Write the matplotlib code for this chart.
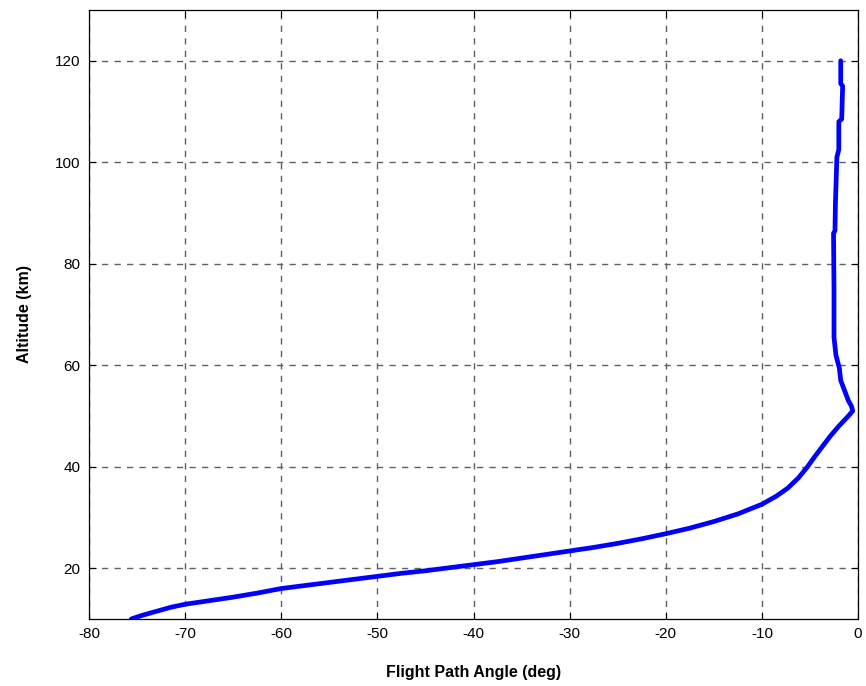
import numpy as np
import matplotlib
matplotlib.use('Agg')
import matplotlib.pyplot as plt

altitude = [10.0, 10.7, 11.5, 12.3, 12.9, 13.6, 14.3, 15.1, 16.0, 16.6,
            17.2, 17.8, 18.4, 19.0, 19.5, 20.1, 20.7, 21.3, 22.0, 22.7,
            23.4, 24.1, 24.9, 25.8, 26.8, 27.9, 29.2, 30.7, 32.6, 34.2,
            35.8, 37.8, 40.0, 42.0, 44.0, 46.0, 48.0, 50.0,
            51.0, 52.0, 53.0, 55.0, 57.0, 59.5, 62.0, 65.5, 75.0, 86.0,
            86.5, 92.0, 101.0, 102.5, 108.0, 108.5, 115.0, 115.5, 120.0]
fpa = [-75.6, -74.5, -73.0, -71.5, -70.0, -67.5, -65.0, -62.5, -60.0, -57.5,
       -55.0, -52.5, -50.0, -47.5, -45.0, -42.5, -40.0, -37.5, -35.0, -32.5,
       -30.0, -27.5, -25.0, -22.5, -20.0, -17.5, -15.0, -12.5, -10.0, -8.5,
       -7.3, -6.2, -5.25, -4.5, -3.7, -2.9, -2.0, -1.0,
       -0.55, -0.7, -1.0, -1.4, -1.8, -1.95, -2.3, -2.5, -2.5, -2.55,
       -2.4, -2.35, -2.2, -2.0, -2.0, -1.7, -1.6, -1.8, -1.8]

xticks = np.arange(-80, 1, 10)
yticks = np.arange(20, 121, 20)

plt.rcParams['font.family'] = ['Liberation Sans', 'DejaVu Sans']
plt.rcParams['axes.unicode_minus'] = False
plt.rcParams['lines.scale_dashes'] = False

fig = plt.figure(figsize=(8.66, 6.86), dpi=100)
ax = fig.add_axes([0.1028, 0.0977, 0.888, 0.8877])

ax.plot(fpa, altitude, color='#0000ff', linewidth=3.4, solid_capstyle='round',
        solid_joinstyle='round')

ax.set_xlim(-80, 0)
ax.set_ylim(10, 130)
ax.set_xticks(xticks)
ax.set_yticks(yticks)

ax.grid(True, color='#606060', linestyle=(0, (4.5, 4.5)), linewidth=1.0)
ax.tick_params(direction='in', length=5, top=True, right=True,
               labelsize=11, pad=6, width=0.75)
for s in ax.spines.values():
    s.set_linewidth(0.9)

ax.set_xlabel('Flight Path Angle (deg)', fontsize=11.5, fontweight='bold',
              labelpad=17)
ax.set_ylabel('Altitude (km)', fontsize=11.5, fontweight='bold',
              labelpad=17)

fig.savefig('out.png', dpi=100)
